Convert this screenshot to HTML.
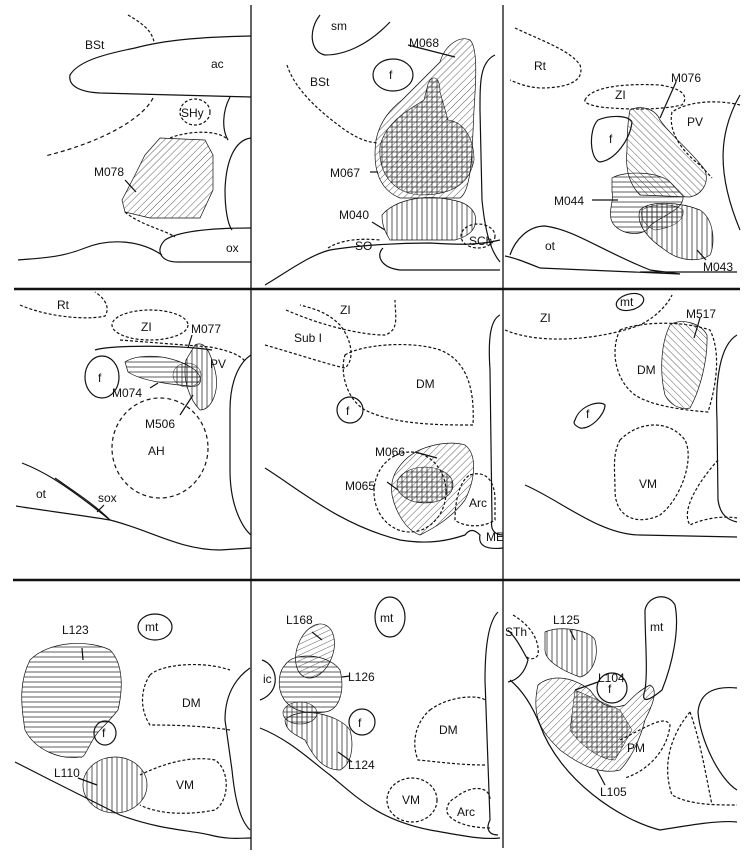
<!DOCTYPE html>
<html><head><meta charset="utf-8"><style>
html,body{margin:0;padding:0;background:#fff;}
svg{display:block;}
text{font-family:"Liberation Sans",sans-serif;font-size:12px;fill:#111;}
</style></head><body>
<svg width="754" height="856" viewBox="0 0 754 856" xmlns="http://www.w3.org/2000/svg">
<defs>
<pattern id="dr" width="5" height="5" patternUnits="userSpaceOnUse" patternTransform="rotate(45)"><line x1="0" y1="0" x2="0" y2="5" stroke="#333" stroke-width="0.8"/></pattern>
<pattern id="dl" width="5" height="5" patternUnits="userSpaceOnUse" patternTransform="rotate(-45)"><line x1="0" y1="0" x2="0" y2="5" stroke="#333" stroke-width="0.8"/></pattern>
<pattern id="hz" width="5" height="5" patternUnits="userSpaceOnUse"><line x1="0" y1="2" x2="5" y2="2" stroke="#333" stroke-width="0.8"/></pattern>
<pattern id="vt" width="5" height="5" patternUnits="userSpaceOnUse"><line x1="2" y1="0" x2="2" y2="5" stroke="#333" stroke-width="0.8"/></pattern>
<pattern id="cx" width="5" height="5" patternUnits="userSpaceOnUse"><path d="M2 0V5M0 2H5" stroke="#333" stroke-width="0.8"/></pattern>
</defs>
<g fill="none" stroke="#111" stroke-width="1.2">
<!-- grid -->
<line x1="14" y1="289" x2="740" y2="289" stroke-width="2.5"/>
<line x1="13" y1="580" x2="740" y2="580" stroke-width="2.5"/>
<line x1="251" y1="5" x2="251" y2="850" stroke-width="1.3"/>
<line x1="503" y1="5" x2="503" y2="848" stroke-width="1.3"/>

<!-- Panel 1 -->
<path d="M128,15 C140,22 152,30 154,42" stroke-dasharray="3,2"/>
<path d="M251,36 C200,37 165,40 135,48 C100,55 78,62 70,75 C68,86 80,92 100,93 L251,97"/>
<path d="M153,98 C145,115 110,140 45,156" stroke-dasharray="4,3"/>
<ellipse cx="195" cy="112" rx="15" ry="13" stroke-dasharray="3,2"/>
<path d="M170,138 C190,130 220,130 228,140" stroke-dasharray="3,2"/>
<path d="M230,97 C222,112 222,130 228,140"/>
<path d="M251,138 C235,140 226,160 225,190 C225,210 228,225 232,230"/>
<path d="M160,138 L205,140 L213,155 L213,190 L200,218 L150,218 L125,212 L122,200 L135,175 L145,155 Z" fill="url(#dr)" stroke-width="0.7"/>
<path d="M125,212 C140,225 165,230 175,237" stroke-dasharray="3,2"/>
<path d="M251,228 C220,228 180,230 165,240 C155,250 160,262 178,262 L251,262"/>
<path d="M18,260 C40,258 60,258 85,248 C110,238 140,240 162,255"/>
<line x1="125" y1="180" x2="136" y2="192"/>

<!-- Panel 2 -->
<path d="M320,15 C308,30 310,52 325,55 C345,55 368,45 390,22"/>
<ellipse cx="393" cy="75" rx="20" ry="16"/>
<path d="M287,65 C295,90 320,112 345,130 C360,140 368,142 378,143" stroke-dasharray="3,2"/>
<path d="M440,62 C445,45 460,35 470,40 C478,48 476,80 474,110 C472,150 472,190 460,198 L400,198 C380,190 372,170 376,140 C380,120 392,108 402,100 C414,88 424,78 440,62Z" fill="url(#dr)" stroke-width="0.7"/>
<path d="M428,84 C432,74 440,76 440,92 L448,120 C465,122 474,140 474,160 C470,182 455,195 420,195 C392,193 378,172 380,146 C386,122 408,110 424,100 Z" fill="url(#cx)" stroke-width="0.6"/>
<path d="M495,55 C480,62 480,82 480,110 L482,200 C485,230 490,250 500,262"/>
<path d="M382,215 C395,200 420,196 440,198 C455,200 470,202 475,215 C478,228 470,236 455,240 L390,240 C385,232 382,225 382,215Z" fill="url(#vt)" stroke-width="0.7"/>
<ellipse cx="478" cy="236" rx="17" ry="12" stroke-dasharray="3,2"/>
<path d="M328,248 C340,240 360,238 380,240" stroke-dasharray="3,2"/>
<path d="M265,285 C290,270 310,255 330,250 C360,245 400,243 430,243 C460,245 480,245 500,240"/>
<path d="M383,248 C375,256 382,268 400,270 L500,270"/>
<line x1="408" y1="45" x2="455" y2="57"/>
<line x1="370" y1="172" x2="378" y2="172"/>
<line x1="372" y1="222" x2="385" y2="230"/>

<!-- Panel 3 -->
<path d="M515,28 C540,40 570,50 580,65 C585,80 570,88 540,88 C525,87 515,82 510,80" stroke-dasharray="3,2"/>
<path d="M585,100 C590,88 620,83 660,85 C680,88 690,95 682,105 C660,110 630,110 600,107 C590,105 584,103 585,100Z" stroke-dasharray="3,2"/>
<path d="M740,105 C720,100 690,100 672,112 C668,130 680,150 700,165 L712,178" stroke-dasharray="3,2"/>
<path d="M598,120 C610,115 628,115 632,122 C630,140 615,160 600,162 C590,160 588,130 598,120Z"/>
<path d="M740,95 C720,130 715,170 740,230"/>
<path d="M630,110 C640,105 655,108 660,120 C670,135 690,150 705,170 C710,185 700,195 690,197 L640,195 C630,185 625,170 627,150 C627,135 628,120 630,110Z" fill="url(#dl)" stroke-width="0.7"/>
<path d="M612,178 C625,170 660,172 670,182 L683,196 C685,210 660,216 650,226 C645,236 625,236 615,226 C605,216 615,200 612,192 Z" fill="url(#hz)" stroke-width="0.7"/>
<path d="M640,210 C650,200 680,202 700,210 C715,220 715,245 710,255 C700,262 680,262 665,250 C650,240 635,225 640,210Z" fill="url(#vt)" stroke-width="0.7"/>
<path d="M642,210 C655,202 675,204 683,210 C685,222 670,228 655,230 C645,226 640,218 642,210Z" fill="url(#cx)" stroke-width="0.5"/>
<path d="M510,255 C515,240 528,226 545,226 C575,230 600,250 650,270 L680,274 L540,268 C525,262 515,258 505,256"/>
<line x1="640" y1="272" x2="737" y2="272"/>
<line x1="676" y1="82" x2="660" y2="118"/>
<line x1="592" y1="200" x2="618" y2="200"/>
<line x1="697" y1="250" x2="706" y2="260"/>

<!-- Panel 4 -->
<path d="M20,305 C50,318 90,320 105,316 C112,305 100,295 95,292" stroke-dasharray="3,2"/>
<ellipse cx="150" cy="325" rx="38" ry="15" stroke-dasharray="3,2"/>
<path d="M120,340 L210,347 C238,352 245,360 245,362" stroke-dasharray="3,2"/>
<ellipse cx="102" cy="377" rx="17" ry="21"/>
<path d="M95,350 C110,345 180,345 212,350"/>
<path d="M125,362 C140,352 175,355 195,370 C205,380 200,388 190,386 C165,384 140,380 128,372 Z" fill="url(#hz)" stroke-width="0.7"/>
<path d="M195,345 C205,340 210,352 215,370 C220,390 212,410 200,410 C190,400 182,380 186,360 Z" fill="url(#vt)" stroke-width="0.7"/>
<ellipse cx="187" cy="375" rx="14" ry="12" fill="url(#cx)" stroke-width="0.5"/>
<ellipse cx="160" cy="448" rx="48" ry="50" stroke-dasharray="4,3"/>
<path d="M251,355 C240,362 230,380 230,410 L230,470 C230,510 245,530 251,535"/>
<path d="M22,463 C40,470 60,480 110,520"/>
<path d="M55,478 C75,492 95,505 110,520"/>
<path d="M16,506 C40,510 80,515 110,520 C150,530 180,550 220,550 L251,548"/>
<line x1="192" y1="335" x2="188" y2="348"/>
<line x1="150" y1="388" x2="158" y2="383"/>
<line x1="180" y1="415" x2="193" y2="395"/>
<line x1="97" y1="512" x2="104" y2="505"/>

<!-- Panel 5 -->
<path d="M265,345 C300,355 330,365 345,368 C355,360 352,340 340,325 C330,315 320,310 300,305" stroke-dasharray="3,2"/>
<path d="M286,310 C320,325 360,335 385,335 C400,330 395,315 395,300" stroke-dasharray="3,2"/>
<path d="M345,355 C360,345 410,340 440,350 C465,360 475,385 473,425 C440,425 395,425 365,410 C345,398 340,370 345,355Z" stroke-dasharray="3,2"/>
<circle cx="350" cy="410" r="13"/>
<ellipse cx="410" cy="492" rx="36" ry="40" stroke-dasharray="3,2"/>
<path d="M405,460 C420,445 450,440 465,445 C478,455 475,480 465,500 C450,520 430,530 420,535 C405,530 395,510 392,495 C390,480 395,470 405,460Z" fill="url(#dr)" stroke-width="0.7"/>
<ellipse cx="425" cy="485" rx="28" ry="18" fill="url(#cx)" stroke-width="0.6"/>
<path d="M470,475 C485,470 495,480 495,500 L495,520 C480,530 460,525 455,520 C455,500 460,480 470,475Z" stroke-dasharray="3,2"/>
<path d="M500,315 C490,320 488,340 490,370 L492,520 C490,530 495,535 503,535"/>
<path d="M265,468 C300,490 340,525 400,540 C430,545 450,540 465,535 C470,528 475,530 480,535 C478,545 485,550 503,548"/>
<line x1="415" y1="452" x2="437" y2="458"/>
<line x1="387" y1="482" x2="398" y2="490"/>

<!-- Panel 6 -->
<ellipse cx="630" cy="302" rx="14" ry="8" transform="rotate(-15 630 302)"/>
<path d="M505,330 C540,345 600,340 640,325 C660,315 670,300 672,295" stroke-dasharray="3,2"/>
<path d="M620,330 C640,322 680,320 710,330 C720,350 718,380 708,412 C680,410 650,405 635,395 C615,380 610,350 620,330Z" stroke-dasharray="3,2"/>
<path d="M670,325 C680,318 700,322 707,335 C708,360 700,390 690,408 C680,410 670,405 665,395 C660,375 660,345 670,325Z" fill="url(#dl)" stroke-width="0.7"/>
<path d="M575,420 C580,405 600,400 605,405 C605,415 590,430 580,428 C574,425 573,423 575,420Z"/>
<path d="M620,440 C640,420 670,420 685,440 C695,460 680,500 660,515 C640,525 615,520 615,490 C615,470 612,455 620,440Z" stroke-dasharray="3,2"/>
<path d="M737,335 C720,345 715,380 717,420 L718,500 C720,515 728,520 737,522"/>
<path d="M525,485 C560,500 600,535 640,535 L737,537"/>
<path d="M718,460 C700,480 680,510 690,525 C700,520 720,515 737,518" stroke-dasharray="3,2"/>
<line x1="700" y1="318" x2="694" y2="338"/>

<!-- Panel 7 -->
<ellipse cx="155" cy="627" rx="17" ry="13"/>
<path d="M30,660 C50,640 90,640 110,650 C120,660 125,680 118,710 C110,720 105,725 100,730 C90,740 85,760 80,757 C60,760 35,750 25,730 C20,700 20,680 30,660Z" fill="url(#hz)" stroke-width="0.7"/>
<ellipse cx="105" cy="733" rx="11" ry="12"/>
<path d="M150,675 C160,665 200,660 230,670 M230,730 C200,725 160,725 150,725 C140,710 140,690 150,675" stroke-dasharray="3,2"/>
<path d="M140,775 C160,765 190,755 215,760 C230,770 230,800 215,810 C190,815 160,815 140,805" stroke-dasharray="3,2"/>
<ellipse cx="115" cy="785" rx="32" ry="28" fill="url(#vt)" stroke-width="0.7"/>
<path d="M250,668 C240,675 225,690 225,720 L232,770 C235,800 240,820 250,830"/>
<path d="M15,762 C50,780 90,800 120,815 C160,830 190,830 210,835 C230,840 240,838 251,838"/>
<line x1="82" y1="648" x2="83" y2="660"/>
<line x1="78" y1="778" x2="97" y2="785"/>

<!-- Panel 8 -->
<path d="M262,660 C278,665 282,692 260,700"/>
<path d="M285,665 C295,650 330,655 340,670 C345,690 340,710 325,712 C305,715 285,710 280,690 C278,680 280,670 285,665Z" fill="url(#hz)" stroke-width="0.7"/>
<ellipse cx="315" cy="651" rx="18" ry="28" transform="rotate(20 315 651)" fill="url(#dr)" stroke-width="0.7"/>
<path d="M285,720 C300,705 340,715 350,730 C355,750 350,765 340,770 C325,770 315,760 305,740 C295,735 285,730 285,720Z" fill="url(#vt)" stroke-width="0.7"/>
<ellipse cx="300" cy="713" rx="17" ry="11" fill="url(#cx)" stroke-width="0.6"/>
<circle cx="362" cy="722" r="13"/>
<ellipse cx="390" cy="617" rx="15" ry="20"/>
<path d="M430,710 C450,695 480,695 485,700 M485,765 C460,765 440,762 418,760 C410,740 418,720 430,710" stroke-dasharray="3,2"/>
<ellipse cx="412" cy="800" rx="25" ry="22" stroke-dasharray="3,2"/>
<path d="M455,798 C470,785 490,785 490,800 M490,828 C470,828 450,822 447,812 C446,806 450,800 455,798" stroke-dasharray="3,2"/>
<path d="M498,612 C490,620 485,640 485,680 L490,820 C485,830 490,835 498,835"/>
<path d="M260,728 C290,740 310,760 330,775 C360,800 380,820 430,830 C460,835 480,840 500,838"/>
<line x1="312" y1="632" x2="322" y2="640"/>
<line x1="342" y1="677" x2="350" y2="676"/>
<line x1="338" y1="752" x2="352" y2="762"/>

<!-- Panel 9 -->
<path d="M513,615 C530,625 540,640 538,655 C535,660 528,660 525,655" stroke-dasharray="3,2"/>
<path d="M508,682 C518,680 525,672 528,660 C522,650 518,640 508,630"/>
<path d="M545,632 C560,625 590,630 595,640 C600,660 590,675 580,677 C560,670 545,660 545,650Z" fill="url(#vt)" stroke-width="0.7"/>
<path d="M645,610 C648,595 668,592 675,605 C680,630 672,665 662,690 C650,700 640,705 645,690 C648,670 645,640 645,610Z"/>
<circle cx="612" cy="688" r="15"/>
<path d="M538,685 C550,675 570,675 590,690 C600,705 610,710 625,705 C635,695 640,690 650,685 C660,690 650,710 645,720 C640,740 630,760 620,770 C600,775 580,765 560,750 C545,735 530,720 538,685Z" fill="url(#dr)" stroke-width="0.7"/>
<path d="M575,690 L620,710 L632,730 L615,760 C600,760 580,745 570,730Z" fill="url(#cx)" stroke-width="0.5"/>
<path d="M620,740 C650,725 665,715 670,725 C668,748 650,770 625,778" stroke-dasharray="3,2"/>
<path d="M510,680 C522,690 532,705 540,725 C560,780 620,820 660,830 C690,825 720,820 737,822"/>
<path d="M737,688 C718,686 700,690 698,712 C700,740 720,780 737,790"/>
<path d="M690,712 C675,730 660,760 672,795 C690,805 715,805 737,805" stroke-dasharray="3,2"/>
<path d="M690,712 C700,740 705,770 712,805" stroke-dasharray="3,2"/>
<line x1="570" y1="630" x2="575" y2="640"/>
<line x1="598" y1="682" x2="575" y2="690"/>
<line x1="605" y1="785" x2="597" y2="770"/>
</g>
<g>
<text x="85" y="49">BSt</text><text x="211" y="68">ac</text>
<text x="181" y="117" font-size="11">SHy</text><text x="226" y="252">ox</text>
<text x="94" y="176">M078</text>
<text x="331" y="30">sm</text><text x="389" y="79">f</text><text x="310" y="86">BSt</text>
<text x="409" y="47">M068</text><text x="330" y="177">M067</text><text x="339" y="219">M040</text>
<text x="355" y="250">SO</text><text x="469" y="245">SCh</text>
<text x="534" y="70">Rt</text><text x="615" y="99">ZI</text><text x="687" y="126">PV</text>
<text x="609" y="143">f</text><text x="671" y="82">M076</text><text x="554" y="205">M044</text>
<text x="545" y="250">ot</text><text x="703" y="271">M043</text>
<text x="57" y="309">Rt</text><text x="141" y="331">ZI</text><text x="191" y="333">M077</text>
<text x="210" y="368">PV</text><text x="98" y="382">f</text><text x="112" y="397">M074</text>
<text x="145" y="428">M506</text><text x="148" y="455">AH</text><text x="36" y="498">ot</text><text x="98" y="502">sox</text>
<text x="340" y="314">ZI</text><text x="294" y="342">Sub I</text><text x="416" y="388">DM</text>
<text x="346" y="415">f</text><text x="375" y="456">M066</text><text x="345" y="490">M065</text>
<text x="469" y="507">Arc</text><text x="486" y="541">ME</text>
<text x="620" y="306" font-size="11">mt</text><text x="540" y="322">ZI</text><text x="637" y="374">DM</text>
<text x="686" y="318">M517</text><text x="586" y="418">f</text><text x="639" y="488">VM</text>
<text x="145" y="631">mt</text><text x="62" y="634">L123</text><text x="102" y="737">f</text>
<text x="182" y="707">DM</text><text x="54" y="777">L110</text><text x="176" y="789">VM</text>
<text x="263" y="683">ic</text><text x="286" y="624">L168</text><text x="348" y="681">L126</text>
<text x="358" y="727">f</text><text x="348" y="769">L124</text><text x="380" y="622">mt</text>
<text x="439" y="734">DM</text><text x="402" y="804">VM</text><text x="457" y="816">Arc</text>
<text x="505" y="636" font-size="11">STh</text><text x="553" y="624">L125</text><text x="650" y="631">mt</text>
<text x="598" y="682">L104</text><text x="608" y="693">f</text><text x="627" y="752">PM</text><text x="600" y="796">L105</text>
</g>
</svg>
</body></html>
